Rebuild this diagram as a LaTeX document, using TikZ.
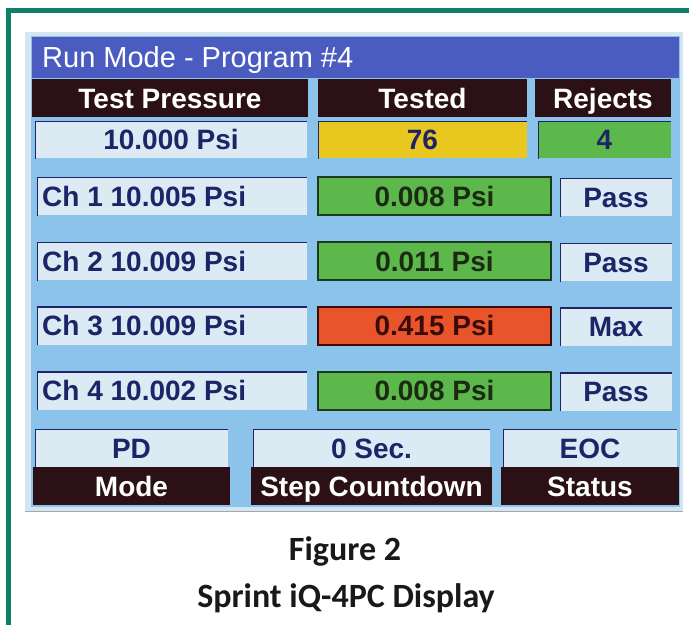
\documentclass[tikz,border=0pt]{standalone}
\usepackage{fontspec}
\newfontfamily\lcdfont{Liberation Sans}
\newfontfamily\capfont{Carlito}
\definecolor{framegreen}{HTML}{0C8168}
\definecolor{screenedge}{HTML}{D3E6F2}
\definecolor{screenbg}{HTML}{8CC3EA}
\definecolor{barblue}{HTML}{4A5CC0}
\definecolor{hdrdark}{HTML}{2B1115}
\definecolor{lite}{HTML}{DCEAF4}
\definecolor{navy}{HTML}{1F2468}
\definecolor{lcdyellow}{HTML}{E8C71F}
\definecolor{lcdgreen}{HTML}{5DB84B}
\definecolor{lcdred}{HTML}{E8552B}
\definecolor{greenedge}{HTML}{1D3A1F}
\definecolor{greentext}{HTML}{1B2A12}
\definecolor{redtext}{HTML}{3B0B08}
\tikzset{
  cell/.style={rectangle, inner sep=0pt, text height=20pt, text depth=0pt,
    font=\lcdfont\bfseries\fontsize{28}{28}\selectfont},
  bevel/.style={path picture={
    \draw[navy, line width=2.5pt]
      ([yshift=-1pt]path picture bounding box.south west) --
      (path picture bounding box.north west) --
      (path picture bounding box.north east);}},
  hdrcell/.style={cell, fill=hdrdark, text=white},
  litecell/.style={cell, fill=lite, text=navy, bevel},
  yellowcell/.style={cell, fill=lcdyellow, text=navy, bevel},
  rejcell/.style={cell, fill=lcdgreen, text=navy, bevel},
  okcell/.style={cell, fill=lcdgreen, text=greentext, draw=greenedge, line width=2pt},
  badcell/.style={cell, fill=lcdred, text=redtext, draw=redtext, line width=2pt},
  chtext/.style={cell, anchor=west, text=navy},
  captext/.style={inner sep=0pt, text height=23pt, text depth=0pt,
    font=\capfont\bfseries\fontsize{34}{34}\selectfont, text=black!90}
}
\begin{document}
\begin{tikzpicture}[x=1pt, y=-1pt]
\useasboundingbox (0,0) rectangle (689,625);
\fill[white] (0,0) rectangle (689,625);

% green frame: left and top rules
\draw[framegreen, line width=5pt] (8.5,625) -- (8.5,10.5) -- (689,10.5);

% display panel
\fill[screenedge] (25,32) rectangle (683,511);
\fill[screenbg] (31,36) rectangle (680,507);
\draw[black!35, line width=1pt] (25,511) -- (683,511);

% title bar
\node[rectangle, fill=barblue, minimum width=647pt, minimum height=41pt, inner sep=0pt]
  (bar) at (355.5,57.5) {};
\node[cell, anchor=west, text=white, font=\lcdfont\fontsize{29}{29}\selectfont]
  (title) at (42,57.5) {Run Mode - Program \#4};

% column headers
\node[hdrcell, minimum width=276pt, minimum height=38pt] (hdrA) at (170,98) {Test Pressure};
\node[hdrcell, minimum width=209pt, minimum height=38pt] (hdrB) at (422.5,98) {Tested};
\node[hdrcell, minimum width=136pt, minimum height=38pt] (hdrC) at (603,98) {Rejects};

% totals row
\node[litecell, minimum width=272pt, minimum height=37pt] (valA) at (171,139.5) {10.000 Psi};
\node[yellowcell, minimum width=209pt, minimum height=37pt] (valB) at (422.5,139.5) {76};
\node[rejcell, minimum width=133pt, minimum height=37pt] (valC) at (604.5,139.5) {4};

% channel rows
\node[litecell, minimum width=270pt, minimum height=38pt] (ch1A) at (172,196) {};
\node[chtext] (ch1t) at (42,196) {Ch 1 10.005 Psi};
\node[okcell, minimum width=233pt, minimum height=38pt] (ch1B) at (434.5,196) {0.008 Psi};
\node[litecell, minimum width=112pt, minimum height=38pt] (ch1C) at (616,197) {Pass};

\node[litecell, minimum width=270pt, minimum height=38pt] (ch2A) at (172,261) {};
\node[chtext] (ch2t) at (42,261) {Ch 2 10.009 Psi};
\node[okcell, minimum width=233pt, minimum height=38pt] (ch2B) at (434.5,261) {0.011 Psi};
\node[litecell, minimum width=112pt, minimum height=38pt] (ch2C) at (616,262) {Pass};

\node[litecell, minimum width=270pt, minimum height=38pt] (ch3A) at (172,325.5) {};
\node[chtext] (ch3t) at (42,325.5) {Ch 3 10.009 Psi};
\node[badcell, minimum width=233pt, minimum height=38pt] (ch3B) at (434.5,325.5) {0.415 Psi};
\node[litecell, minimum width=112pt, minimum height=38pt] (ch3C) at (616,326.5) {Max};

\node[litecell, minimum width=270pt, minimum height=38pt] (ch4A) at (172,390.5) {};
\node[chtext] (ch4t) at (42,390.5) {Ch 4 10.002 Psi};
\node[okcell, minimum width=233pt, minimum height=38pt] (ch4B) at (434.5,390.5) {0.008 Psi};
\node[litecell, minimum width=112pt, minimum height=38pt] (ch4C) at (616,391.5) {Pass};

% status values and their captions
\node[litecell, minimum width=193pt, minimum height=38pt] (pd) at (131.5,448) {PD};
\node[litecell, minimum width=237pt, minimum height=38pt] (sec) at (371.5,448) {0 Sec.};
\node[litecell, minimum width=174pt, minimum height=38pt] (eoc) at (590,448) {EOC};
\node[hdrcell, minimum width=197pt, minimum height=38pt] (mode) at (131.5,486) {Mode};
\node[hdrcell, minimum width=241pt, minimum height=38pt] (step) at (371.5,486) {Step Countdown};
\node[hdrcell, minimum width=178pt, minimum height=38pt] (status) at (590,486) {Status};

% figure caption
\node[captext] (figno) at (345,549) {Figure 2};
\node[captext] (figname) at (346,596) {Sprint iQ-4PC Display};
\end{tikzpicture}
\end{document}
